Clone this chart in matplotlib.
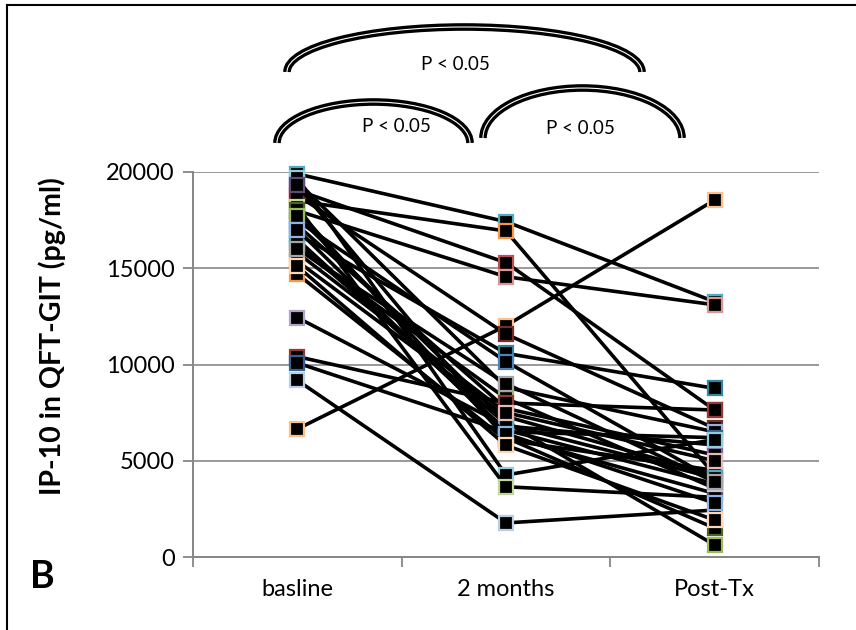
import matplotlib
matplotlib.use("Agg")
import matplotlib.pyplot as plt
from matplotlib.patches import Arc
from matplotlib.lines import Line2D

plt.rcParams['font.family'] = ['Lato', 'DejaVu Sans']

timepoints = ["basline", "2 months", "Post-Tx"]

# IP-10 per patient (pg/ml)
baseline = [19900, 18500, 19050, 17990, 6650, 18800, 16780, 12440, 17470, 19500,
            16050, 17230, 15370, 10410, 10080, 9180, 14700, 19700, 18200, 19300,
            18000, 17700, 16500, 16300, 15800, 17000, 15100, 16000]
two_months = [17420, 16935, 15290, 14560, 12015, 11580, 10580, 6805, 10150, 8815,
              8240, 7720, 7300, 8000, 6500, 1770, 6080, 4260, 3650, 6300,
              6200, 7000, 6600, 6900, 7500, 6400, 5800, 9000]
post_tx = [13260, 4260, 7635, 13100, 18545, 6685, 8760, 5820, 4000, 6500,
           3570, 5300, 4260, 7635, 6200, 2440, 4500, 6100, 3100, 3300,
           1500, 620, 3800, 4100, 5000, 2800, 1920, 3900]

edge_colors = ['#4BACC6', '#F79646', '#C0504D', '#D99694', '#FAC090', '#772C2A',
               '#31859C', '#B2A2C7', '#4F81BD', '#95B3D7', '#9BBB59', '#8064A2',
               '#E46C0A', '#953735', '#366092', '#B9CDE5', '#F79646', '#93CDDD',
               '#C3D69B', '#604A7B', '#4F6228', '#9BBB59', '#CCC1DA', '#4BACC6',
               '#E6B9B8', '#8EB4E3', '#FCD5B5', '#A6A6A6']

fig = plt.figure(figsize=(8.56, 6.30), dpi=100)
ax = fig.add_axes([193 / 856, 1 - 557 / 630, 626 / 856, 385 / 630])

xs = [0, 1, 2]
for i in range(len(baseline)):
    ys = [baseline[i], two_months[i], post_tx[i]]
    ax.plot(xs, ys, color='black', lw=2.6, marker='s', markersize=10,
            markerfacecolor='black', markeredgecolor=edge_colors[i % len(edge_colors)],
            markeredgewidth=1.6, clip_on=False, zorder=3)

ax.set_xlim(-0.5, 2.5)
ax.set_ylim(0, 20000)
ax.set_yticks([0, 5000, 10000, 15000, 20000])
ax.set_xticks(xs)
ax.set_xticklabels(timepoints)
ax.set_xticks([-0.5, 0.5, 1.5, 2.5], minor=True)
ax.tick_params(axis='x', which='major', length=0, pad=16, labelsize=17)
ax.tick_params(axis='x', which='minor', length=7, width=1.3, color='#868686', direction='out')
ax.tick_params(axis='y', length=7, width=1.3, color='#868686', direction='out', labelsize=17, pad=6)
ax.grid(axis='y', color='#999999', lw=1.4, zorder=0)
ax.set_axisbelow(True)
for s in ['top', 'right']:
    ax.spines[s].set_visible(False)
for s in ['left', 'bottom']:
    ax.spines[s].set_color('#868686')
    ax.spines[s].set_linewidth(1.4)
ax.set_ylabel("IP-10 in QFT-GIT (pg/ml)", fontsize=20.5, fontweight='bold')
ax.yaxis.set_label_coords(-0.203, 0.573)

# overlay in pixel coordinates for brackets, frame and panel letter
ov = fig.add_axes([0, 0, 1, 1], facecolor='none')
ov.set_xlim(0, 856)
ov.set_ylim(630, 0)
ov.axis('off')

arcs = [(287, 642, 27, 72), (277, 470, 102, 143), (483, 682, 88, 138)]
for x0, x1, ytop, yend in arcs:
    for lw, c in [(5.5, 'black'), (0.8, 'white')]:
        ov.add_patch(Arc(((x0 + x1) / 2, yend), x1 - x0, 2 * (yend - ytop),
                         theta1=180, theta2=360, lw=lw, color=c))
ov.text(455, 64, "P < 0.05", ha='center', va='center', fontsize=13.5)
ov.text(396, 127, "P < 0.05", ha='center', va='center', fontsize=13.5)
ov.text(580, 128, "P < 0.05", ha='center', va='center', fontsize=13.5)

ov.text(30, 577, "B", fontsize=27, fontweight='bold', ha='left', va='center')
ov.add_line(Line2D([7, 7], [5, 630], color='black', lw=1.5))
ov.add_line(Line2D([7, 856], [5, 5], color='black', lw=1.5))

fig.savefig("out.png", dpi=100)
